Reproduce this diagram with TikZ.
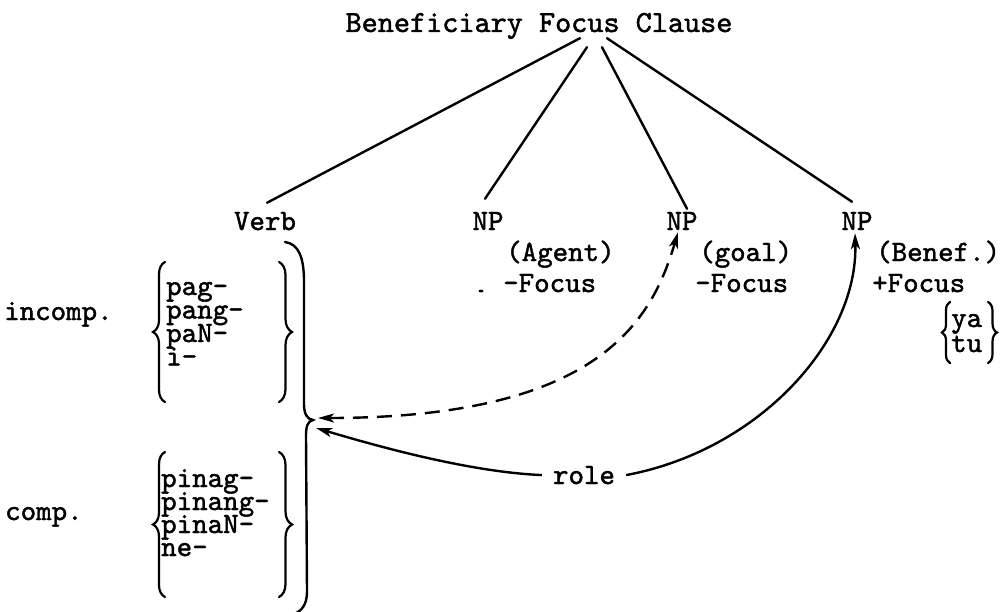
\documentclass[tikz,border=0pt]{standalone}
\usepackage{fontspec}
\setmonofont{lmmono10-regular.otf}[FakeBold=1.5]
\usetikzlibrary{arrows.meta,decorations.pathreplacing,calc}
\begin{document}
\begin{tikzpicture}[x=1pt,y=1pt,
  lbl/.style={inner sep=0pt, font=\fontsize{29.5pt}{35pt}\selectfont\ttfamily},
  stk/.style={lbl, text height=15pt, text depth=5pt},
  ttl/.style={inner sep=0pt, font=\fontsize{30.7pt}{36pt}\selectfont\ttfamily},
  tree/.style={line width=2.4pt, line cap=round},
  brc/.style={decorate, decoration={brace, amplitude=#1}, line width=2.2pt, line cap=round},
  brc/.default=12pt,
  conn/.style={line width=2.4pt},
  dashconn/.style={conn, dash pattern=on 15pt off 9pt},
  tipA/.tip={Stealth[length=16pt,width=9pt,inset=4pt]}
]
\useasboundingbox (0,0) rectangle (1000,-612);

% title and tree nodes
\node[ttl, anchor=base] (title) at (539,-32) {Beneficiary Focus Clause};
\node[lbl, anchor=base] (verb) at (265,-230) {Verb};
\node[lbl, anchor=base] (np1) at (488,-230) {NP};
\node[lbl, anchor=base] (np2) at (682,-230) {NP};
\node[lbl, anchor=base] (np3) at (857,-230) {NP};

% features
\node[stk, anchor=base west] (agent) at (506,-261) {(Agent)};
\node[stk, anchor=base west] (agentf) at (503,-292) {-Focus};
\node[stk, anchor=base west] (goal) at (699,-261) {(goal)};
\node[stk, anchor=base west] (goalf) at (695,-292) {-Focus};
\node[stk, anchor=base west] (benef) at (876,-261) {(Benef.)};
\node[stk, anchor=base west] (beneff) at (872,-292) {+Focus};
\node[stk, anchor=base west] (ya) at (951,-327) {ya};
\node[stk, anchor=base west] (tu) at (951,-352) {tu};
\fill (481,-291) ellipse (2.5pt and 1.4pt);

% verb prefixes
\node[stk, anchor=base west] (incomp) at (4,-320) {incomp.};
\node[stk, anchor=base west] (i1) at (166,-295) {pag-};
\node[stk, anchor=base west] (i2) at (166,-318.5) {pang-};
\node[stk, anchor=base west] (i3) at (166,-342) {paN-};
\node[stk, anchor=base west] (i4) at (166,-365.5) {i-};
\node[stk, anchor=base west] (comp) at (5,-520) {comp.};
\node[stk, anchor=base west] (c1) at (161,-487) {pinag-};
\node[stk, anchor=base west] (c2) at (161,-510) {pinang-};
\node[stk, anchor=base west] (c3) at (161,-533) {pinaN-};
\node[stk, anchor=base west] (c4) at (161,-556) {ne-};
\node[lbl, anchor=base, inner xsep=11pt] (role) at (584,-484) {role};

% braces
\draw[brc=12pt] (165,-402) -- (165,-262);
\draw[brc=13pt] (279,-262) -- (279,-402);
\draw[brc=12pt] (165,-597) -- (165,-452);
\draw[brc=13pt] (279,-452) -- (279,-597);
\draw[brc=8pt] (950,-363) -- (950,-302);
\draw[brc=9pt] (988,-302) -- (988,-363);
\draw[conn, line cap=round] (285,-242) .. controls (299,-244) and (304,-258) .. (304,-282)
  -- (304,-404) .. controls (304,-414) and (307,-419) .. (313,-420)
  .. controls (307,-421) and (306,-428) .. (306,-436)
  -- (307,-592) .. controls (307,-604) and (302,-611) .. (294,-614);
\coordinate (vt1) at (318,-418);
\coordinate (vt2) at (316,-428);

% tree lines
\draw[tree] ($(title.south)+(41,1)$) -- ($(verb.north)+(2,9)$);
\draw[tree] ($(title.south)+(48,-8)$) -- ($(np1.north)+(-3,13)$);
\draw[tree] ($(title.south)+(63,-8)$) -- ($(np2.north)+(5,3)$);
\draw[tree] ($(title.south)+(68,1)$) -- ($(np3.north)+(-5,10)$);

% connectors
\draw[dashconn, tipA-tipA] (vt1) .. controls (600,-418) and (652,-320) .. ($(np2.south)+(-4,-2)$);
\draw[conn, tipA-] (vt2) .. controls (380,-447) and (470,-472) .. (role.west);
\draw[conn, -tipA] (role.east) .. controls (760,-450) and (858,-340) .. ($(np3.south)+(-2,-3)$);
\end{tikzpicture}
\end{document}
